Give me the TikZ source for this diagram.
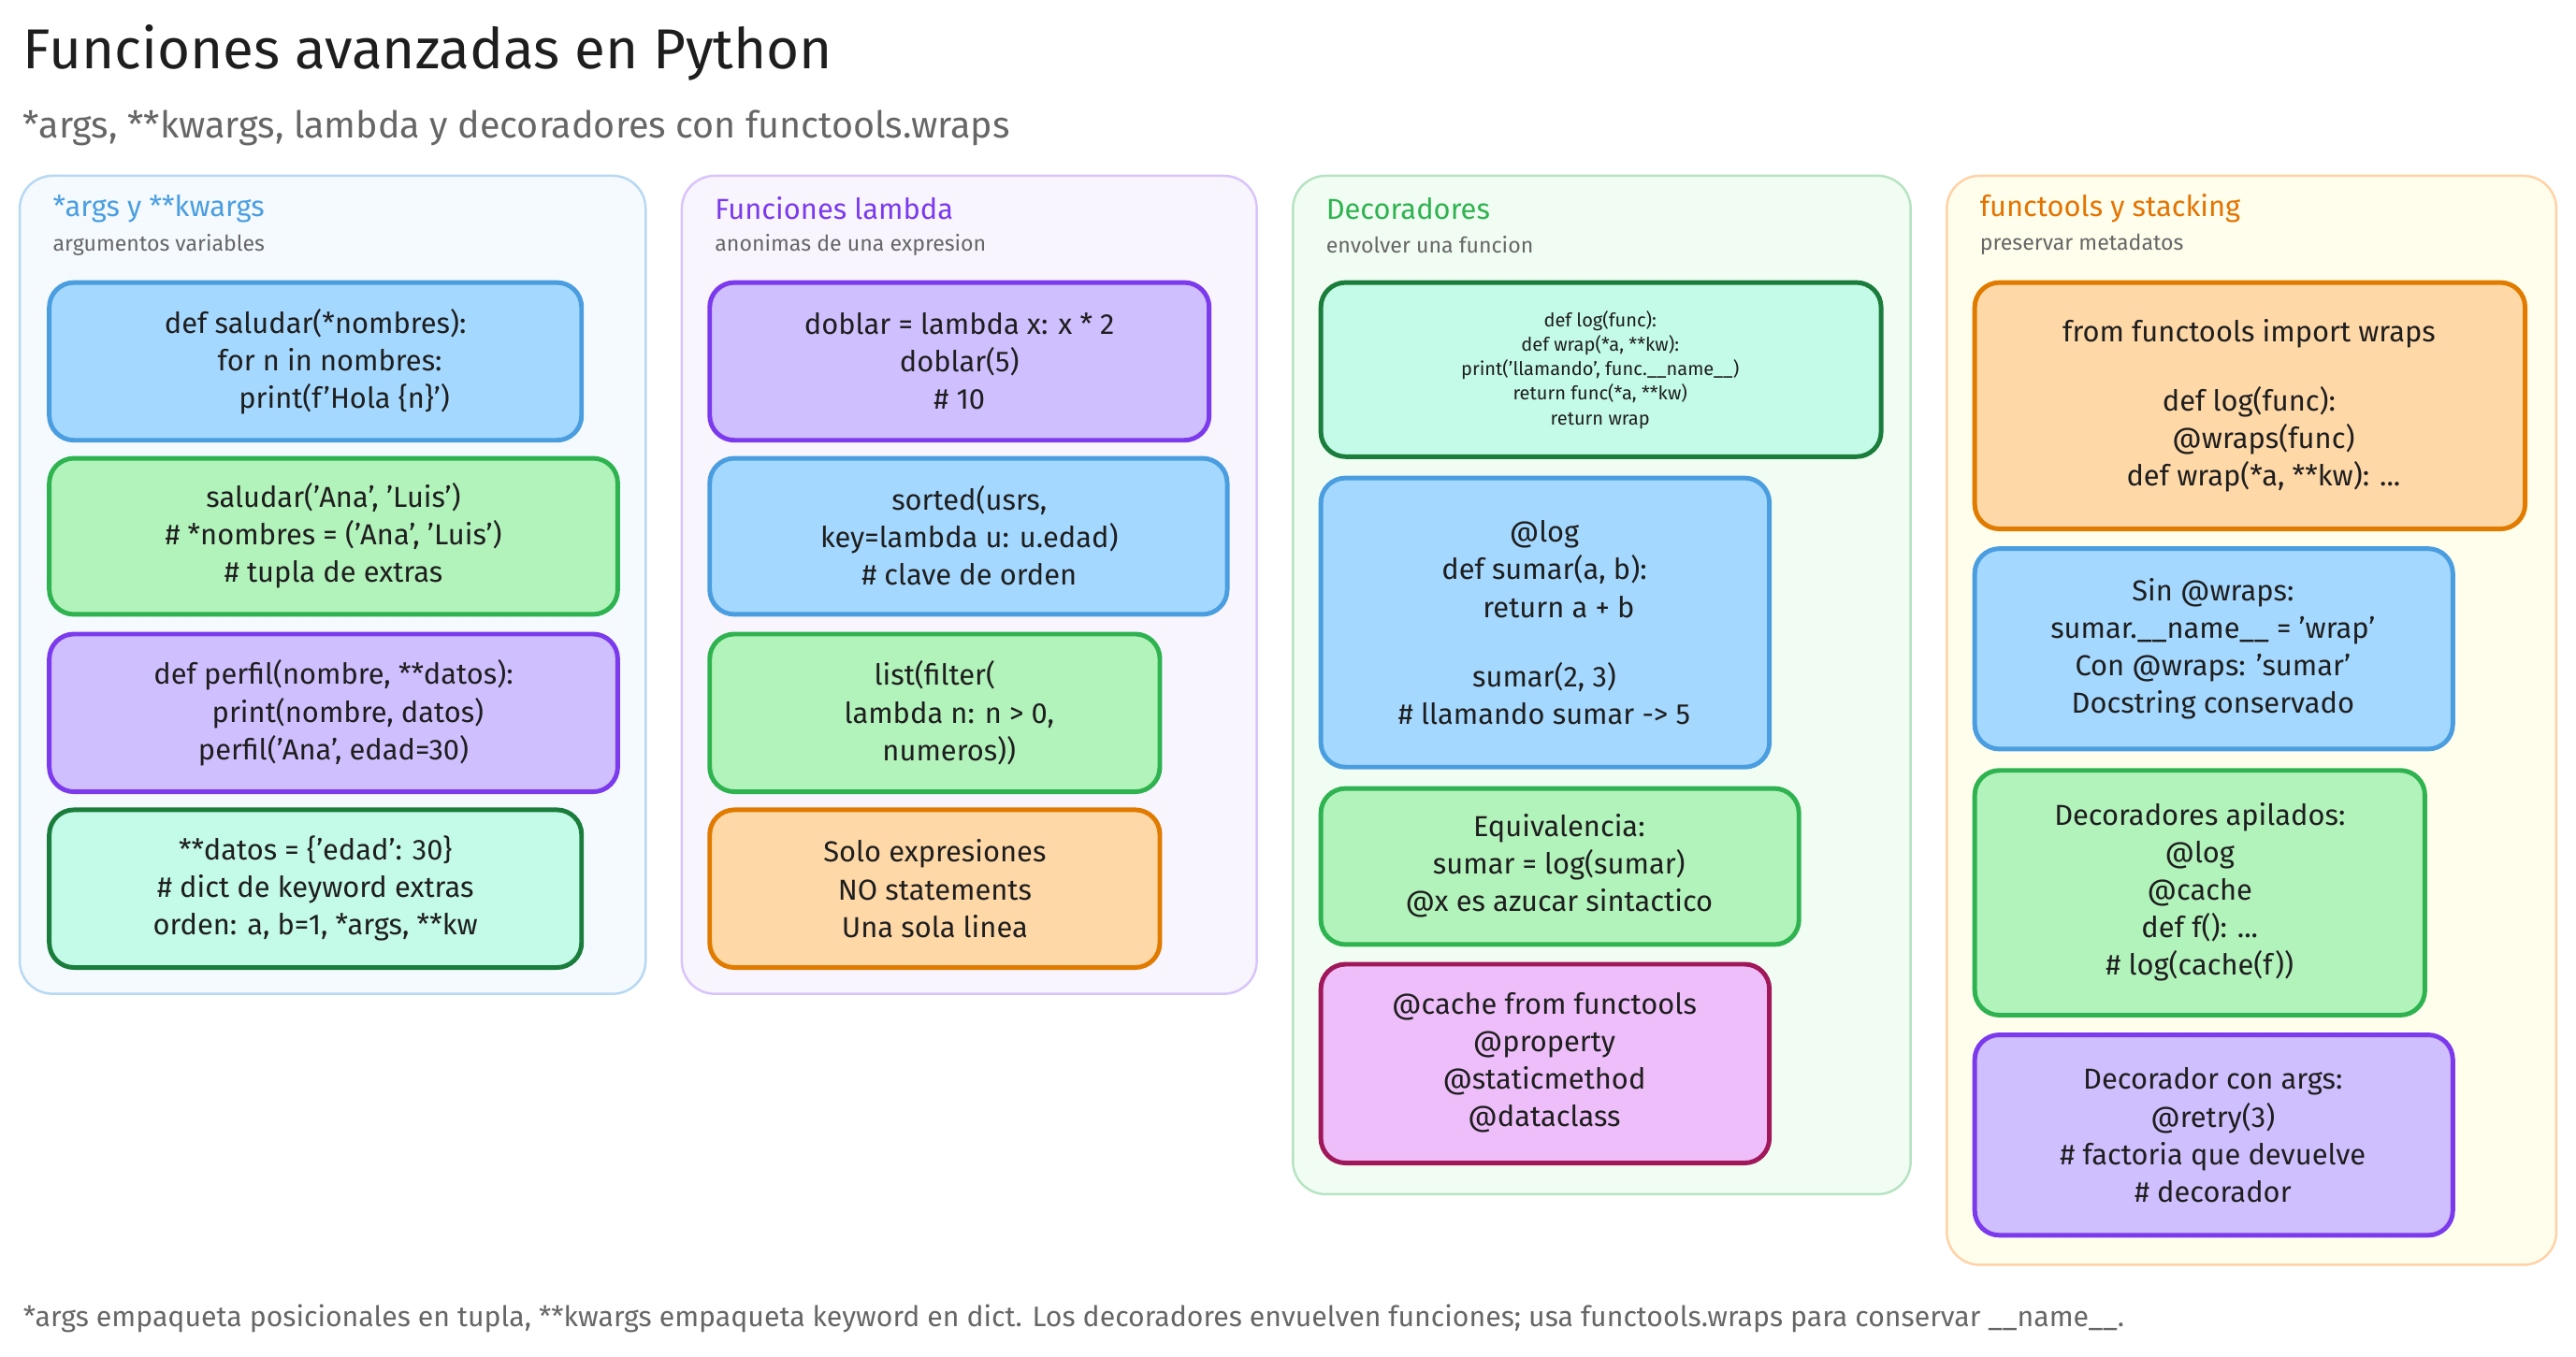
\documentclass[tikz,border=0pt]{standalone}
\usepackage{fontspec}
\setmainfont{Fira Sans}
\usetikzlibrary{positioning}
\definecolor{ink}{HTML}{1E1E1E}
\definecolor{grey}{HTML}{666666}
\definecolor{blueS}{HTML}{4A9EE0}\definecolor{blueF}{HTML}{A5D8FF}
\definecolor{greenS}{HTML}{2FB350}\definecolor{greenF}{HTML}{B2F2BB}
\definecolor{purpS}{HTML}{7C3AED}\definecolor{purpF}{HTML}{D0BFFF}
\definecolor{mintS}{HTML}{1B7D3B}\definecolor{mintF}{HTML}{C3FAE8}
\definecolor{orS}{HTML}{E07B00}\definecolor{orF}{HTML}{FFD8A8}
\definecolor{pinkS}{HTML}{A0185A}\definecolor{pinkF}{HTML}{EEBEFA}
\tikzset{
  grp/.style={draw, line width=0.8pt, rounded corners=0.4cm},
  box/.style={draw, line width=1.6pt, rounded corners=0.3cm},
  code/.style={align=center, text=ink, font=\fontsize{10}{13}\selectfont},
  head/.style={anchor=west, font=\fontsize{10}{12}\selectfont},
  sub/.style={anchor=west, text=grey, font=\fontsize{7.5}{9}\selectfont}
}
\begin{document}
\begin{tikzpicture}[x=0.02cm, y=-0.02cm]
    \useasboundingbox (0, 0) rectangle (1568, 826);

    % titulo
    \node[anchor=west, text=ink, font=\fontsize{19.5}{23}\selectfont] (title) at (8, 32) {Funciones avanzadas en Python};
    \node[anchor=west, text=grey, font=\fontsize{12.8}{15}\selectfont] (subtitle) at (8, 78) {*args, **kwargs, lambda y decoradores con functools.wraps};

    % grupos
    \draw[grp, draw=blueS!40, fill=blueF!12] (12, 107) rectangle (393, 605);
    \node[head, text=blueS] (h1) at (26, 127) {*args y **kwargs};
    \node[sub] (s1) at (26, 149) {argumentos variables};
    \draw[grp, draw=purpS!30, fill=purpF!15] (415, 107) rectangle (765, 605);
    \node[head, text=purpS] (h2) at (429, 127) {Funciones lambda};
    \node[sub] (s2) at (429, 149) {anonimas de una expresion};
    \draw[grp, draw=greenS!35, fill=greenF!18] (787, 107) rectangle (1163, 727);
    \node[head, text=greenS] (h3) at (801, 127) {Decoradores};
    \node[sub] (s3) at (801, 149) {envolver una funcion};
    \draw[grp, draw=orange!35, fill=yellow!7] (1185, 107) rectangle (1556, 770);
    \node[head, text=orange!90!black] (h4) at (1199, 127) {functools y stacking};
    \node[sub] (s4) at (1199, 149) {preservar metadatos};

    % *args y **kwargs
    \draw[box, draw=blueS, fill=blueF] (30, 172) rectangle (354, 268);
    \node[code] (a1) at (192, 220) {def saludar(*nombres):\\ \quad for n in nombres:\\ \qquad print(f'Hola \{n\}')};
    \draw[box, draw=greenS, fill=greenF] (30, 279) rectangle (376, 374);
    \node[code] (a2) at (203, 326) {saludar('Ana', 'Luis')\\ \# *nombres = ('Ana', 'Luis')\\ \# tupla de extras};
    \draw[box, draw=purpS, fill=purpF] (30, 386) rectangle (376, 482);
    \node[code] (a3) at (203, 434) {def perfil(nombre, **datos):\\ \quad print(nombre, datos)\\ perfil('Ana', edad=30)};
    \draw[box, draw=mintS, fill=mintF] (30, 493) rectangle (354, 589);
    \node[code] (a4) at (192, 541) {**datos = \{'edad': 30\}\\ \# dict de keyword extras\\ orden: a, b=1, *args, **kw};

    % lambda
    \draw[box, draw=purpS, fill=purpF] (432, 172) rectangle (736, 268);
    \node[code] (b1) at (584, 220) {doblar = lambda x: x * 2\\ doblar(5)\\ \# 10};
    \draw[box, draw=blueS, fill=blueF] (432, 279) rectangle (747, 374);
    \node[code] (b2) at (590, 326) {sorted(usrs,\\ key=lambda u: u.edad)\\ \# clave de orden};
    \draw[box, draw=greenS, fill=greenF] (432, 386) rectangle (706, 482);
    \node[code] (b3) at (569, 434) {list(filter(\\ \quad lambda n: n > 0,\\ \quad numeros))};
    \draw[box, draw=orS, fill=orF] (432, 493) rectangle (706, 589);
    \node[code] (b4) at (569, 541) {Solo expresiones\\ NO statements\\ Una sola linea};

    % decoradores
    \draw[box, draw=mintS, fill=mintF] (804, 172) rectangle (1145, 278);
    \node[code, font=\fontsize{6.5}{8.5}\selectfont] (c1) at (974, 225) {def log(func):\\ def wrap(*a, **kw):\\ print('llamando', func.\_\_name\_\_)\\ return func(*a, **kw)\\ return wrap};
    \draw[box, draw=blueS, fill=blueF] (804, 291) rectangle (1077, 467);
    \node[code] (c2) at (940, 379) {@log\\ def sumar(a, b):\\ \quad return a + b\\[1.1em] sumar(2, 3)\\ \# llamando sumar -> 5};
    \draw[box, draw=greenS, fill=greenF] (804, 480) rectangle (1095, 575);
    \node[code] (c3) at (949, 527) {Equivalencia:\\ sumar = log(sumar)\\ @x es azucar sintactico};
    \draw[box, draw=pinkS, fill=pinkF] (804, 587) rectangle (1077, 708);
    \node[code] (c4) at (940, 647) {@cache from functools\\ @property\\ @staticmethod\\ @dataclass};

    % functools
    \draw[box, draw=orS, fill=orF] (1202, 172) rectangle (1537, 322);
    \node[code] (d1) at (1369, 247) {from functools import wraps\\[1.1em] def log(func):\\ \quad @wraps(func)\\ \quad def wrap(*a, **kw): ...};
    \draw[box, draw=blueS, fill=blueF] (1202, 334) rectangle (1493, 456);
    \node[code] (d2) at (1347, 395) {Sin @wraps:\\ sumar.\_\_name\_\_ = 'wrap'\\ Con @wraps: 'sumar'\\ Docstring conservado};
    \draw[box, draw=greenS, fill=greenF] (1202, 469) rectangle (1476, 618);
    \node[code] (d3) at (1339, 543) {Decoradores apilados:\\ @log\\ @cache\\ def f(): ...\\ \# log(cache(f))};
    \draw[box, draw=purpS, fill=purpF] (1202, 630) rectangle (1493, 752);
    \node[code] (d4) at (1347, 691) {Decorador con args:\\ @retry(3)\\ \# factoria que devuelve\\ \# decorador};

    % nota
    \node[anchor=west, text=grey, font=\fontsize{9.8}{12}\selectfont] (note) at (8, 803) {*args empaqueta posicionales en tupla, **kwargs empaqueta keyword en dict. Los decoradores envuelven funciones; usa functools.wraps para conservar \_\_name\_\_.};
\end{tikzpicture}
\end{document}
